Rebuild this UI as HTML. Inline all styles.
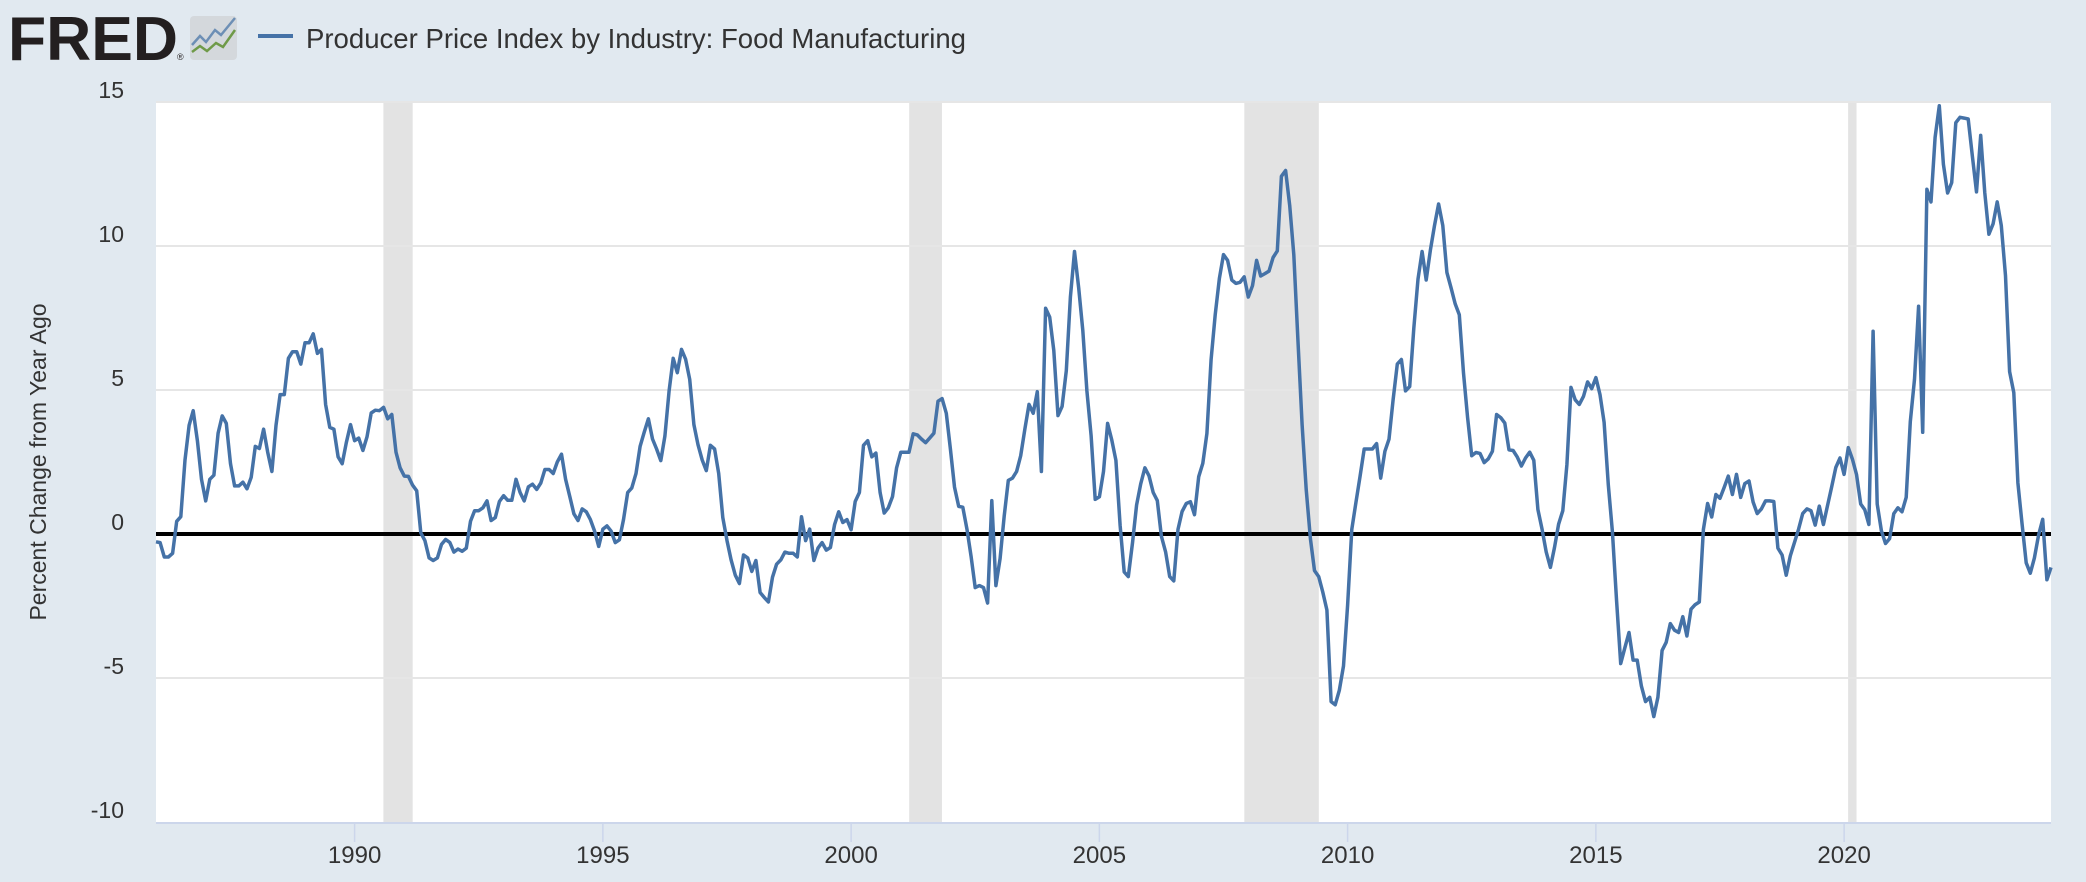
<!DOCTYPE html>
<html><head><meta charset="utf-8"><style>
html,body{margin:0;padding:0;background:#e1e9f0;}
svg{display:block;font-family:"Liberation Sans",sans-serif;}
</style></head><body>
<svg id="chart" width="2086" height="882" viewBox="0 0 2086 882" xmlns="http://www.w3.org/2000/svg">
<rect x="0" y="0" width="2086" height="882" fill="#e1e9f0"/>
<g>
<text x="8" y="60" font-size="62" font-weight="bold" fill="#231f20" textLength="170" lengthAdjust="spacingAndGlyphs">FRED</text>
<text x="177" y="60" font-size="9" fill="#231f20">®</text>
<rect x="190" y="16" width="47" height="44" rx="4" fill="#d4d8dc"/>
<polyline points="192,45 200,36 206,42 215,30 221,35 235,18" fill="none" stroke="#6d8fb5" stroke-width="2.5"/>
<polyline points="192,52 200,46 207,51 216,43 223,47 235,30" fill="none" stroke="#6f9a48" stroke-width="2.5"/>
</g>
<line x1="258" y1="36" x2="293" y2="36" stroke="#4572a7" stroke-width="4"/>
<text x="306" y="48" font-size="28" fill="#333" textLength="660" lengthAdjust="spacingAndGlyphs">Producer Price Index by Industry: Food Manufacturing</text>
<rect x="156" y="102" width="1895" height="720" fill="#ffffff"/>
<g id="rec"></g><g id="grid"></g><g id="axes"></g><g id="series"></g>
<text transform="translate(46,462) rotate(-90)" text-anchor="middle" font-size="23" fill="#333">Percent Change from Year Ago</text>
</svg>
<script>
const yTicks=[15,10,5,0,-5,-10];
const xTickYears=[1990,1995,2000,2005,2010,2015,2020];
const recStarts=[1990.58,2001.17,2007.92,2020.08];
const recEnds=[1991.17,2001.83,2009.42,2020.25];
const startYear=1986.0;
const values=[
-0.27,-0.3,-0.8,-0.8,-0.67,0.44,0.6,2.57,3.77,4.28,3.24,1.9,1.15,1.9,2.04,3.5,4.1,3.84,2.44,1.67,1.67,1.8,1.57,1.97,3.04,2.97,3.64,2.84,2.17,3.77,4.84,4.84,6.1,6.33,6.33,5.9,6.64,6.64,6.95,6.27,6.41,4.5,3.7,3.64,2.68,2.44,3.17,3.8,3.24,3.33,2.9,3.37,4.2,4.3,4.28,4.4,4.0,4.15,2.84,2.3,2.01,2.0,1.7,1.5,0.04,-0.23,-0.83,-0.92,-0.83,-0.36,-0.19,-0.29,-0.63,-0.52,-0.6,-0.49,0.44,0.81,0.81,0.91,1.15,0.47,0.57,1.13,1.33,1.17,1.17,1.9,1.44,1.15,1.64,1.73,1.55,1.77,2.24,
2.24,2.1,2.5,2.77,1.9,1.3,0.7,0.47,0.87,0.77,0.5,0.1,-0.43,0.17,0.28,0.1,-0.3,-0.2,0.5,1.44,1.6,2.1,3.04,3.53,4.0,3.3,2.95,2.55,3.4,4.97,6.1,5.6,6.41,6.07,5.37,3.8,3.1,2.57,2.2,3.08,2.95,2.1,0.57,-0.23,-0.9,-1.43,-1.72,-0.73,-0.83,-1.3,-0.92,-2.03,-2.2,-2.36,-1.5,-1.05,-0.9,-0.63,-0.67,-0.67,-0.8,0.6,-0.23,0.17,-0.92,-0.49,-0.3,-0.56,-0.47,0.33,0.77,0.4,0.5,0.15,1.13,1.44,3.08,3.24,2.68,2.81,1.44,0.73,0.91,1.3,2.3,2.84,2.84,2.84,3.48,3.44,3.3,3.17,3.33,3.5,4.61,4.7,
4.19,2.95,1.63,0.96,0.93,0.16,-0.78,-1.86,-1.79,-1.86,-2.4,1.16,-1.79,-0.85,0.62,1.86,1.94,2.17,2.72,3.65,4.5,4.19,4.94,2.17,7.84,7.53,6.37,4.11,4.43,5.67,8.23,9.81,8.54,7.07,4.97,3.42,1.2,1.29,2.17,3.84,3.26,2.56,0.31,-1.32,-1.48,-0.31,1.01,1.74,2.3,2.02,1.44,1.16,-0.08,-0.62,-1.48,-1.63,0.16,0.78,1.06,1.12,0.67,1.99,2.45,3.49,6.06,7.61,8.88,9.7,9.5,8.82,8.7,8.74,8.93,8.23,8.62,9.5,8.96,9.04,9.13,9.6,9.83,12.42,12.62,11.41,9.7,6.68,3.8,1.55,-0.16,-1.27,-1.48,-2.02,-2.64,
-5.82,-5.93,-5.43,-4.58,-2.48,0.16,1.09,1.99,2.95,2.95,2.95,3.14,1.94,2.87,3.29,4.66,5.9,6.06,4.97,5.12,7.14,8.85,9.81,8.82,9.86,10.71,11.46,10.71,9.08,8.54,7.99,7.61,5.59,4.04,2.72,2.83,2.8,2.48,2.61,2.87,4.15,4.04,3.85,2.92,2.9,2.67,2.36,2.64,2.84,2.56,0.85,0.16,-0.62,-1.16,-0.47,0.34,0.81,2.41,5.09,4.66,4.5,4.78,5.28,5.05,5.43,4.84,3.88,1.71,0.08,-2.33,-4.5,-3.96,-3.42,-4.38,-4.38,-5.28,-5.82,-5.67,-6.34,-5.67,-4.04,-3.76,-3.11,-3.34,-3.42,-2.87,-3.54,-2.61,-2.45,-2.36,0.16,1.06,0.59,1.37,1.24,
1.61,2.01,1.37,2.07,1.27,1.75,1.84,1.11,0.71,0.87,1.15,1.15,1.13,-0.49,-0.73,-1.43,-0.76,-0.29,0.17,0.71,0.87,0.81,0.31,0.97,0.33,1.0,1.64,2.31,2.64,2.07,3.0,2.6,2.07,1.04,0.84,0.33,7.04,1.04,0.11,-0.33,-0.16,0.71,0.91,0.77,1.27,3.9,5.37,7.91,3.53,11.97,11.53,13.77,14.87,12.84,11.84,12.2,14.28,14.47,14.44,14.41,13.11,11.88,13.84,11.84,10.41,10.77,11.53,10.71,8.97,5.64,4.91,1.77,0.37,-1.0,-1.36,-0.83,-0.03,0.51,-1.59,-1.16
];
const L=156,R=2051,T=102,B=822,yMin=-10,yMax=15;
const endYear=startYear+(values.length-1)/12;
const xs=y=>L+(y-startYear)/(endYear-startYear)*(R-L);
const ys=v=>B-(v-yMin)/(yMax-yMin)*(B-T);
const NS="http://www.w3.org/2000/svg";
function mk(tag,attrs,parent,txt){const e=document.createElementNS(NS,tag);for(const k in attrs)e.setAttribute(k,attrs[k]);if(txt!==undefined)e.textContent=txt;parent.appendChild(e);return e;}
const rec=document.getElementById('rec'),grid=document.getElementById('grid'),axes=document.getElementById('axes'),series=document.getElementById('series');
recStarts.forEach((s,i)=>{
 const r=mk('rect',{x:xs(s),y:T,width:xs(recEnds[i])-xs(s),height:B-T,fill:'#e3e3e3'},rec);
 
 
});
yTicks.forEach(v=>{
 if(v>yMin){const g=mk('line',{x1:L,x2:R,y1:ys(v),y2:ys(v),stroke:'#e6e6e6','stroke-width':2},grid);
 
 }
 const t=mk('text',{x:124,y:ys(v)-4,'text-anchor':'end','font-size':23,fill:'#333'},axes,String(v));
 
 
});
const ax=mk('line',{x1:L,x2:R,y1:B+1,y2:B+1,stroke:'#ccd6eb','stroke-width':2},axes);


xTickYears.forEach(yr=>{
 const x=xs(yr);
 const tk=mk('line',{x1:x,x2:x,y1:B,y2:B+20,stroke:'#ccd6eb','stroke-width':1.5},axes);
 
 
 const t=mk('text',{x:x,y:863,'text-anchor':'middle','font-size':24,fill:'#333'},axes,String(yr));
 
 
});
const zl=mk('line',{x1:L,x2:R,y1:ys(0),y2:ys(0),stroke:'#000','stroke-width':4},series);


const pts=values.map((v,i)=>xs(startYear+i/12).toFixed(1)+','+ys(v).toFixed(1)).join(' ');
const pl=mk('polyline',{points:pts,fill:'none',stroke:'#4572a7','stroke-width':3.5,'stroke-linejoin':'round'},series);


</script>
</body></html>
